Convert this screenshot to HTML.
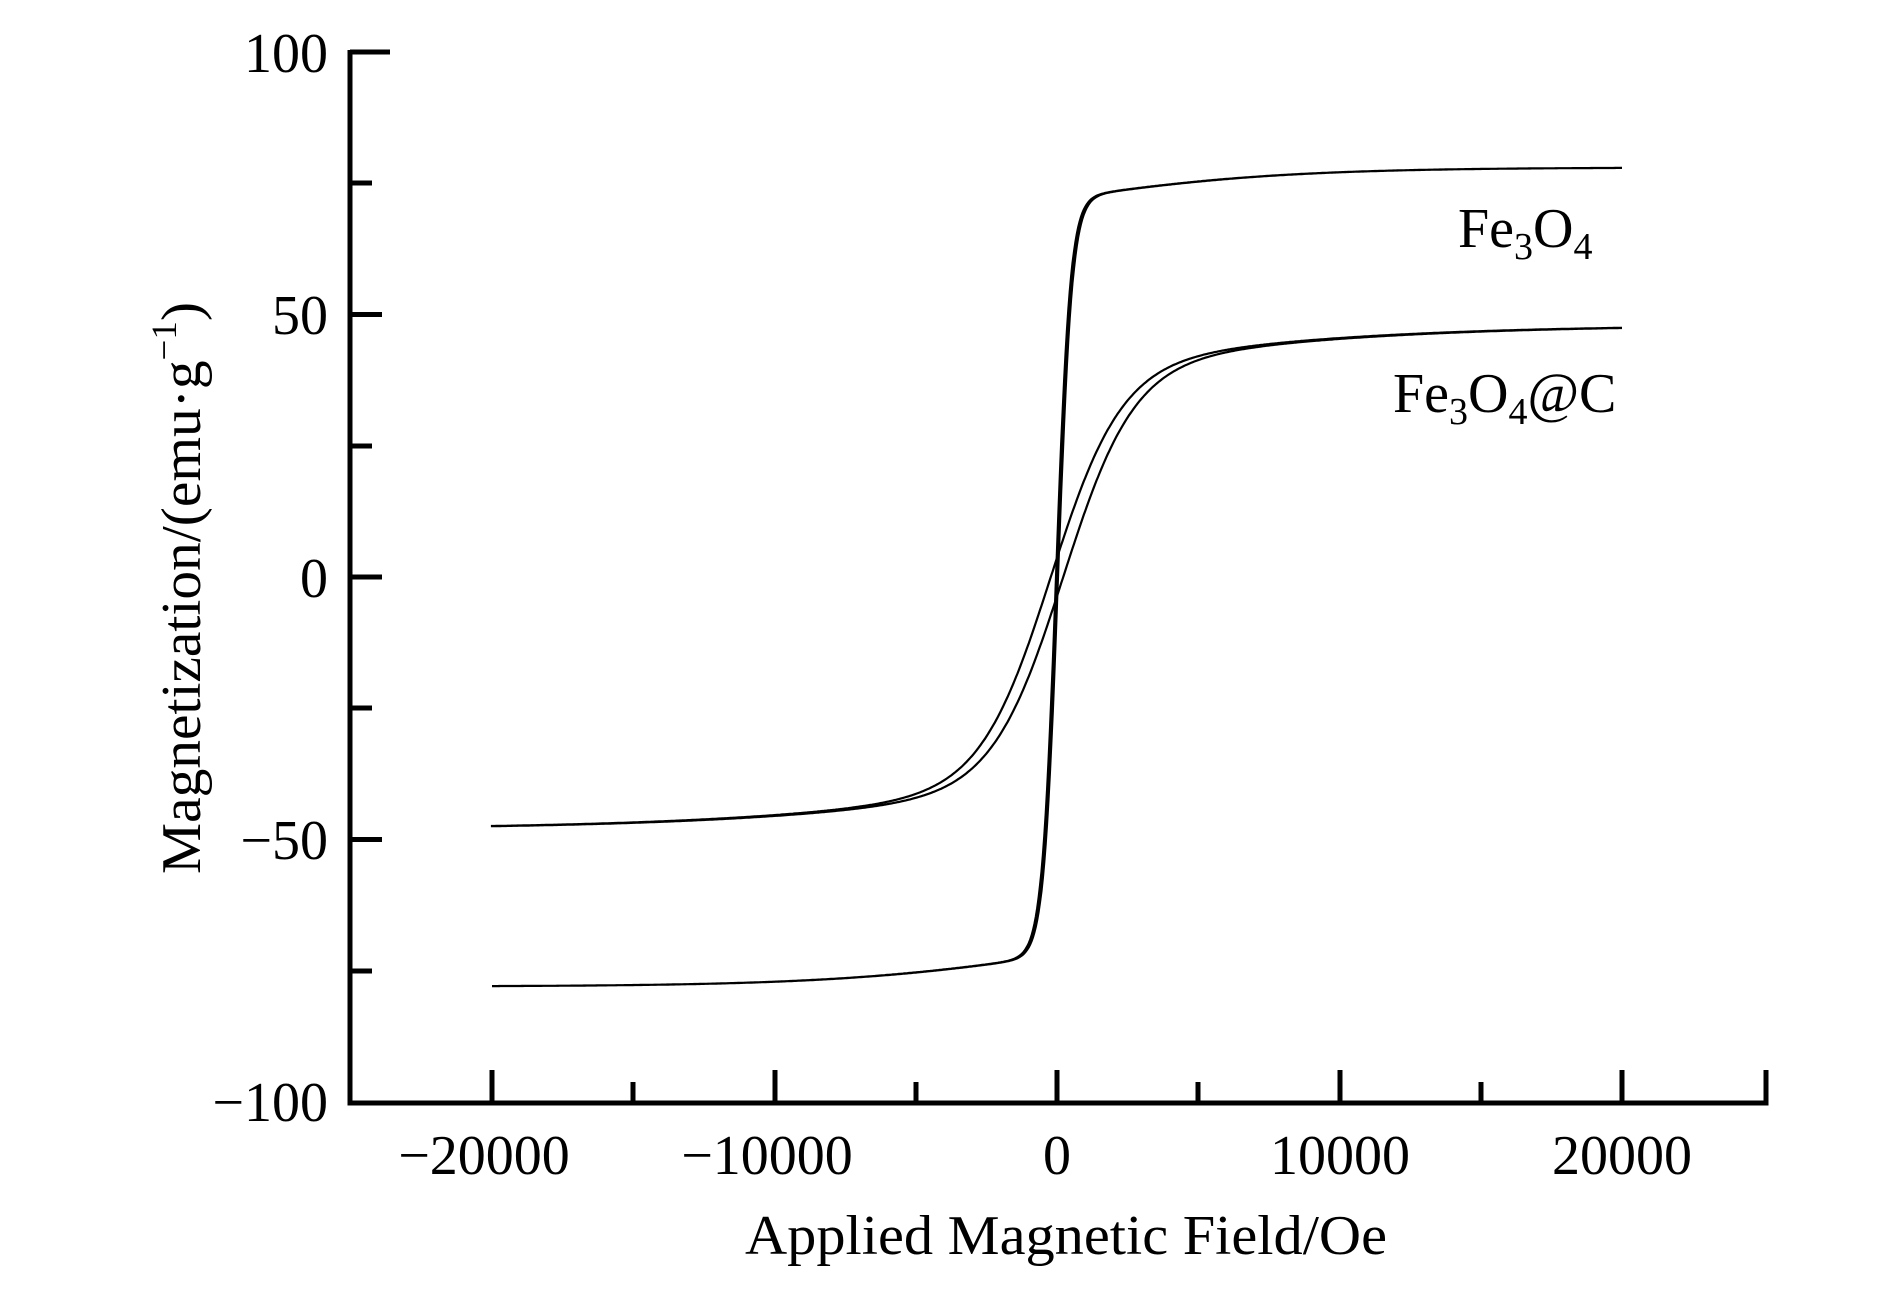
<!DOCTYPE html>
<html><head><meta charset="utf-8"><style>
html,body{margin:0;padding:0;background:#fff;}
svg{display:block;}
text{font-family:"Liberation Serif",serif;fill:#000;}
</style></head><body>
<svg id="s" width="1890" height="1299" viewBox="0 0 1890 1299" xmlns="http://www.w3.org/2000/svg">
<g stroke="#000" stroke-width="5" fill="none" stroke-linecap="butt">
<path d="M350 50 V1103 H1766 V1070"/>
<path d="M350 52 H390 M350 314.5 H382 M350 577 H382 M350 839.5 H382 M350 183 H372 M350 446 H372 M350 708 H372 M350 971 H372"/>
<path d="M492 1103 V1070 M775 1103 V1070 M1057 1103 V1070 M1340 1103 V1070 M1622 1103 V1070 M633 1103 V1082 M916 1103 V1082 M1198 1103 V1082 M1481 1103 V1082"/>
</g>
<g font-size="56" text-anchor="end">
<text x="328" y="72">100</text>
<text x="328" y="334">50</text>
<text x="328" y="597">0</text>
<text x="328" y="859">−50</text>
<text x="328" y="1121">−100</text>
</g>
<g font-size="56" text-anchor="middle">
<text x="484" y="1174">−20000</text>
<text x="767" y="1174">−10000</text>
<text x="1057" y="1174">0</text>
<text x="1340" y="1174">10000</text>
<text x="1622" y="1174">20000</text>
<text x="1066" y="1254" textLength="642" lengthAdjust="spacingAndGlyphs">Applied Magnetic Field/Oe</text>
<text transform="translate(200,588) rotate(-90)" textLength="572" lengthAdjust="spacingAndGlyphs">Magnetization/(emu·g<tspan font-size="36" dy="-24">−1</tspan><tspan dy="24">)</tspan></text>
</g>
<g font-size="56">
<text x="1458" y="247">Fe<tspan font-size="38" dy="12">3</tspan><tspan dy="-12">O</tspan><tspan font-size="38" dy="12">4</tspan></text>
<text x="1393" y="412">Fe<tspan font-size="38" dy="12">3</tspan><tspan dy="-12">O</tspan><tspan font-size="38" dy="12">4</tspan><tspan dy="-12">@C</tspan></text>
</g>
<path id="c1" stroke="#000" stroke-width="2.2" fill="none"/>
<path id="c2" stroke="#000" stroke-width="2.2" fill="none"/>
</svg>
<script>
function X(h){return 1057+h*0.02825;}
function Y(m){return 577-m*5.25;}
function f1(h){return 72*Math.tanh(h/500)+6*Math.tanh(h/8000);}
function f2(h){return 40*Math.tanh(h/2500)+8*Math.tanh(h/12000);}
function loop(f,hc){
  var d="",pts=[];
  for(var i=0;i<=800;i++){var h=20000-40000*i/800;pts.push([h,f(h+hc)]);}
  for(var i=0;i<=800;i++){var h=-20000+40000*i/800;pts.push([h,f(h-hc)]);}
  pts.forEach(function(p,k){d+=(k?"L":"M")+X(p[0]).toFixed(1)+" "+Y(p[1]).toFixed(1);});
  return d;
}
document.getElementById("c1").setAttribute("d",loop(f1,35));
document.getElementById("c2").setAttribute("d",loop(f2,220));
</script>
</body></html>
